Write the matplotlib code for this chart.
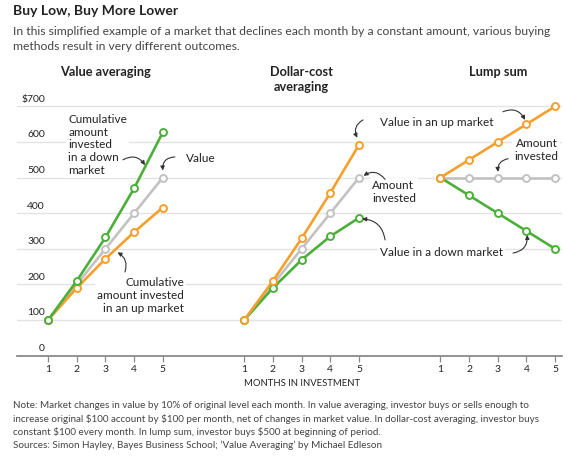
import matplotlib
matplotlib.use('Agg')
import matplotlib.pyplot as plt
import numpy as np

plt.rcParams['font.family'] = ['Lato', 'DejaVu Sans']

# months 1..5 in each of the three panels
months = [1, 2, 3, 4, 5]
month_labels = ['1', '2', '3', '4', '5']
panel_titles = ['Value averaging', 'Dollar-cost\naveraging', 'Lump sum']
yticks = [0, 100, 200, 300, 400, 500, 600, 700]
ytick_labels = ['0', '100', '200', '300', '400', '500', '600', '\\$700']

# value averaging
va_down_invested = [100, 210, 332, 470, 627]
va_value = [100, 200, 300, 400, 500]
va_up_invested = [100, 190, 272, 347, 416]
# dollar-cost averaging
dca_up_value = [100, 210, 329, 457, 592]
dca_invested = [100, 200, 300, 400, 500]
dca_down_value = [100, 190, 269, 335, 387]
# lump sum
ls_up_value = [500, 550, 600, 650, 700]
ls_invested = [500, 500, 500, 500, 500]
ls_down_value = [500, 450, 400, 350, 300]

GREEN = '#4caf3a'
ORANGE = '#f5a02c'
GRAY = '#c2c2c2'
TXT = '#222222'

W, H = 587, 461
fig = plt.figure(figsize=(W / 100, H / 100), dpi=100)

# axes placement in pixels
x0_px, x1_px = 17, 562
y0_px, y1_px = 355.6, 100
ax = fig.add_axes([x0_px / W, 1 - y0_px / H, (x1_px - x0_px) / W, (y0_px - y1_px) / H])
offset = 6.84
ax.set_xlim(-0.084, 18.92)
ax.set_ylim(0, 718)

for s in ['top', 'right', 'left']:
    ax.spines[s].set_visible(False)
ax.spines['bottom'].set_color('#8a8a8a')
ax.spines['bottom'].set_linewidth(1.3)
ax.set_yticks([])

xs = [np.array(months) + k * offset for k in range(3)]
ax.set_xticks(np.concatenate(xs))
ax.set_xticklabels(month_labels * 3, fontsize=7.5, color=TXT)
ax.tick_params(axis='x', length=4, width=0.9, color='#8a8a8a', pad=3)

# gridlines
for v in yticks[1:]:
    ax.axhline(v, color='#e3e3e3', lw=1.0, zorder=1)
for v, lab in zip(yticks, ytick_labels):
    ax.text(0.89, v + 20, lab, ha='right', va='center', fontsize=7.5, color=TXT, zorder=2)

def draw(x, y, c):
    ax.plot(x, y, color=c, lw=1.9, marker='o', ms=5, mfc='white', mec=c, mew=1.4,
            zorder=5, clip_on=False, solid_capstyle='round')

draw(xs[0], va_value, GRAY)
draw(xs[0], va_up_invested, ORANGE)
draw(xs[0], va_down_invested, GREEN)
draw(xs[1], dca_invested, GRAY)
draw(xs[1], dca_down_value, GREEN)
draw(xs[1], dca_up_value, ORANGE)
draw(xs[2], ls_invested, GRAY)
draw(xs[2], ls_down_value, GREEN)
draw(xs[2], ls_up_value, ORANGE)

# panel headings
for k, t in enumerate(panel_titles):
    ax.text(3 + k * offset, 814, t, ha='center', va='top', fontsize=9.2,
            fontweight='bold', color=TXT, linespacing=1.35)

box = dict(facecolor='white', edgecolor='none', pad=1.5)
ann = dict(fontsize=8.5, color=TXT, zorder=3, bbox=box, linespacing=1.2)

ax.text(1.70, 679, 'Cumulative\namount\ninvested\nin a down\nmarket', ha='left', va='top', **ann)
ax.text(5.81, 555, 'Value', ha='left', va='center', **ann)
ax.text(5.74, 221, 'Cumulative\namount invested\nin an up market', ha='right', va='top',
        multialignment='right', **ann)
ax.text(12.57, 654, 'Value in an up market', ha='left', va='center', **ann)
ax.text(12.30, 494, 'Amount\ninvested', ha='left', va='top', **ann)
ax.text(12.57, 291, 'Value in a down market', ha='left', va='center', **ann)
ax.text(18.78, 612, 'Amount\ninvested', ha='right', va='top', multialignment='right', **ann)

def arrow(start, tip, rad):
    ax.annotate('', xy=tip, xytext=start, zorder=6,
                arrowprops=dict(arrowstyle='-|>', color='#333333', lw=0.8,
                                mutation_scale=6, shrinkA=0, shrinkB=0,
                                connectionstyle='arc3,rad=%s' % rad))

arrow((3.61, 550), (4.38, 535), -0.45)
arrow((5.42, 558), (5.0, 520), 0.5)
arrow((3.68, 235), (3.42, 290), 0.4)
arrow((11.98, 662), (11.78, 612), 0.45)
arrow((12.75, 495), (12.0, 505), 0.45)
arrow((12.75, 325), (11.95, 384), 0.4)
arrow((16.86, 685), (17.63, 662), -0.45)
arrow((17.04, 553), (16.69, 516), 0.45)
arrow((17.21, 288), (17.70, 339), 0.45)

# titles and notes
fig.text(13 / W, 1 - 5 / H, 'Buy Low, Buy More Lower', ha='left', va='top',
         fontsize=10, fontweight='bold', color=TXT)
fig.text(13 / W, 1 - 26 / H,
         'In this simplified example of a market that declines each month by a constant amount, various buying\n'
         'methods result in very different outcomes.',
         ha='left', va='top', fontsize=8.7, color='#444444', linespacing=1.42)
fig.text(302 / W, 1 - 383 / H, 'MONTHS IN INVESTMENT', ha='center', va='center',
         fontsize=6.8, color=TXT)
fig.text(13 / W, 1 - 401 / H,
         'Note: Market changes in value by 10% of original level each month. In value averaging, investor buys or sells enough to\n'
         'increase original \\$100 account by \\$100 per month, net of changes in market value. In dollar-cost averaging, investor buys\n'
         'constant \\$100 every month. In lump sum, investor buys \\$500 at beginning of period.\n'
         "Sources: Simon Hayley, Bayes Business School; \u2018Value Averaging\u2019 by Michael Edleson",
         ha='left', va='top', fontsize=7.15, color='#444444', linespacing=1.45)

fig.savefig('out.png', dpi=100, facecolor='white')
